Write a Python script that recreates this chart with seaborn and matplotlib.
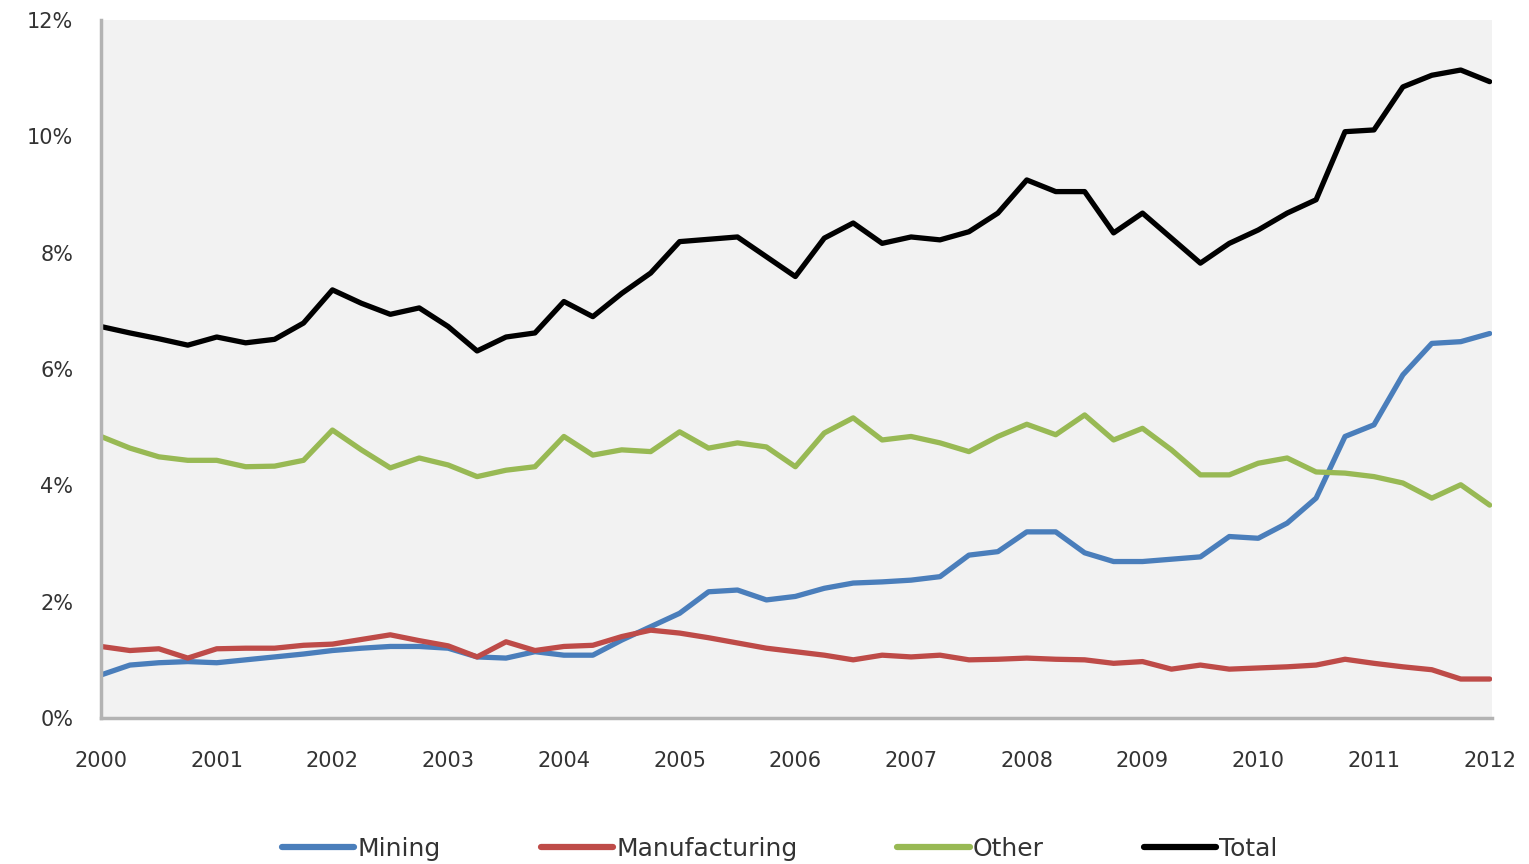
import numpy as np
import pandas as pd
import matplotlib
matplotlib.use("Agg")
import matplotlib.pyplot as plt
import seaborn as sns
from matplotlib.ticker import FuncFormatter

# Quarterly observations, 2000 Q1 .. 2012 Q1
quarters = [2000 + i / 4 for i in range(49)]

mining = [0.74, 0.91, 0.95, 0.97, 0.95, 1.00, 1.05, 1.10, 1.16, 1.20,
          1.23, 1.23, 1.20, 1.05, 1.03, 1.14, 1.08, 1.08, 1.34, 1.57,
          1.80, 2.17, 2.20, 2.03, 2.09, 2.23, 2.32, 2.34, 2.37, 2.43,
          2.80, 2.86, 3.20, 3.20, 2.84, 2.69, 2.69, 2.73, 2.77, 3.12,
          3.09, 3.35, 3.78, 4.84, 5.04, 5.90, 6.44, 6.47, 6.61]

manufacturing = [1.23, 1.16, 1.19, 1.03, 1.19, 1.20, 1.20, 1.25, 1.27, 1.35,
                 1.43, 1.33, 1.24, 1.05, 1.31, 1.16, 1.23, 1.25, 1.40, 1.51,
                 1.46, 1.38, 1.29, 1.20, 1.14, 1.08, 1.00, 1.08, 1.05, 1.08,
                 1.00, 1.01, 1.03, 1.01, 1.00, 0.94, 0.97, 0.84, 0.91, 0.84,
                 0.86, 0.88, 0.91, 1.01, 0.94, 0.88, 0.83, 0.67, 0.67]

other = [4.84, 4.64, 4.49, 4.43, 4.43, 4.32, 4.33, 4.43, 4.95, 4.61,
         4.30, 4.47, 4.35, 4.15, 4.26, 4.32, 4.84, 4.52, 4.61, 4.58,
         4.92, 4.64, 4.73, 4.66, 4.32, 4.90, 5.16, 4.78, 4.84, 4.73,
         4.58, 4.84, 5.05, 4.87, 5.21, 4.78, 4.98, 4.61, 4.18, 4.18,
         4.38, 4.47, 4.23, 4.21, 4.15, 4.04, 3.78, 4.01, 3.66]

total = [6.73, 6.62, 6.52, 6.41, 6.55, 6.45, 6.51, 6.79, 7.36, 7.13,
         6.94, 7.05, 6.73, 6.31, 6.55, 6.62, 7.16, 6.90, 7.30, 7.65,
         8.19, 8.23, 8.27, 7.93, 7.59, 8.25, 8.51, 8.16, 8.27, 8.22,
         8.36, 8.68, 9.25, 9.05, 9.05, 8.34, 8.68, 8.25, 7.82, 8.16,
         8.39, 8.68, 8.91, 10.08, 10.11, 10.85, 11.05, 11.14, 10.94]

series_names = ["Mining", "Manufacturing", "Other", "Total"]
series_colors = ["#4a7ebb", "#be4b48", "#98b954", "#000000"]
year_ticks = list(range(2000, 2013))
y_ticks = [0, 2, 4, 6, 8, 10, 12]

frames = []
for name, vals in zip(series_names, [mining, manufacturing, other, total]):
    frames.append(pd.DataFrame({"quarter": quarters, "value": vals, "series": name}))
df = pd.concat(frames, ignore_index=True)

sns.set_style("white")
plt.rcParams["font.family"] = ["DejaVu Sans"]

fig = plt.figure(figsize=(15.29, 8.64), dpi=100)
ax = fig.add_axes([101 / 1529, 1 - 718 / 864, (1492 - 101) / 1529, (718 - 20) / 864])
ax.set_facecolor("#f2f2f2")

sns.lineplot(data=df, x="quarter", y="value", hue="series",
             hue_order=series_names, palette=series_colors,
             linewidth=3.8, ax=ax, legend=True)

ax.set_xlim(2000, 2012.02)
ax.set_ylim(0, 12)
ax.set_xticks(year_ticks)
ax.set_xticklabels([str(y) for y in year_ticks])
ax.set_yticks(y_ticks)
ax.yaxis.set_major_formatter(FuncFormatter(lambda v, p: f"{int(v)}%"))
ax.set_xlabel("")
ax.set_ylabel("")

for s in ["top", "right"]:
    ax.spines[s].set_visible(False)
for s in ["left", "bottom"]:
    ax.spines[s].set_color("#b3b3b3")
    ax.spines[s].set_linewidth(2.5)

ax.tick_params(axis="both", which="major", direction="out", length=8,
               width=2, color="#b3b3b3", labelsize=15, labelcolor="#333333")
ax.tick_params(axis="y", pad=12)
ax.tick_params(axis="x", pad=16)

handles, labels = ax.get_legend_handles_labels()
ax.get_legend().remove()
for h in handles:
    h.set_linewidth(4.5)
fig.legend(handles, labels, loc="center", bbox_to_anchor=(0.51, 1 - 849 / 864),
           ncol=4, frameon=False, fontsize=18, handlelength=2.9,
           handletextpad=0.12, columnspacing=4.0, labelcolor="#333333")

fig.savefig("out.png", dpi=100, facecolor="white")
